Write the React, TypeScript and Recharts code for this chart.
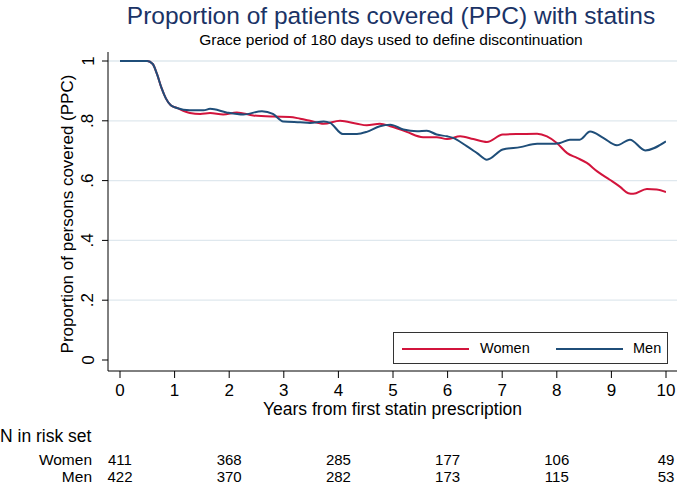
import React from 'react';
import { LineChart, Line, XAxis, YAxis, ReferenceLine } from 'recharts';

// years from first prescription (x) and PPC (y)
const womenYears = [0, 0.5, 0.6, 0.68, 0.76, 0.84, 0.93, 1.04, 1.28, 1.47, 1.65, 1.89, 2.14, 2.44, 2.8, 3.11, 3.3, 3.48, 3.73, 4.03, 4.34, 4.52, 4.76, 4.95, 5.25, 5.55, 5.8, 5.99, 6.23, 6.47, 6.72, 7.01, 7.33, 7.64, 7.82, 8.0, 8.19, 8.37, 8.55, 8.74, 8.97, 9.16, 9.31, 9.4, 9.65, 9.83, 10];
const womenPpc = [1, 1, 0.99, 0.955, 0.91, 0.875, 0.852, 0.843, 0.826, 0.823, 0.826, 0.821, 0.828, 0.818, 0.814, 0.813, 0.807, 0.8, 0.79, 0.8, 0.79, 0.785, 0.79, 0.782, 0.763, 0.745, 0.745, 0.739, 0.748, 0.739, 0.729, 0.754, 0.756, 0.757, 0.748, 0.726, 0.692, 0.676, 0.659, 0.631, 0.603, 0.579, 0.558, 0.556, 0.572, 0.57, 0.562];

const menYears = [0, 0.5, 0.6, 0.68, 0.76, 0.84, 0.93, 1.04, 1.28, 1.53, 1.65, 1.95, 2.26, 2.6, 2.8, 2.99, 3.3, 3.48, 3.73, 3.85, 4.08, 4.34, 4.52, 4.76, 4.95, 5.19, 5.44, 5.62, 5.8, 5.99, 6.1, 6.35, 6.54, 6.72, 7.01, 7.33, 7.64, 7.88, 8.06, 8.24, 8.42, 8.61, 8.85, 9.1, 9.34, 9.62, 10];
const menPpc = [1, 1, 0.99, 0.955, 0.91, 0.875, 0.852, 0.843, 0.835, 0.835, 0.84, 0.828, 0.821, 0.832, 0.823, 0.798, 0.795, 0.793, 0.798, 0.793, 0.756, 0.756, 0.763, 0.782, 0.787, 0.771, 0.765, 0.767, 0.754, 0.748, 0.743, 0.715, 0.692, 0.67, 0.704, 0.712, 0.723, 0.723, 0.726, 0.737, 0.737, 0.764, 0.743, 0.718, 0.737, 0.701, 0.731];

const xTicks = [0, 1, 2, 3, 4, 5, 6, 7, 8, 9, 10];
const yTicks = [0, 0.2, 0.4, 0.6, 0.8, 1];
const gridValues = [0.2, 0.4, 0.6, 0.8, 1];

const riskYears = [0, 2, 4, 6, 8, 10];
const riskWomen = [411, 368, 285, 177, 106, 49];
const riskMen = [422, 370, 282, 173, 115, 53];

const WOMEN = '#d2143c';
const MEN = '#1f4e79';
const FONT = '"Liberation Sans", Arial, sans-serif';

const womenData = womenYears.map((t, i) => ({ t, v: womenPpc[i] }));
const menData = menYears.map((t, i) => ({ t, v: menPpc[i] }));

const fmtY = (v: number) => (v === 0 ? '0' : v === 1 ? '1' : v.toFixed(1).replace(/^0/, ''));

// stata-style vertical y tick labels
const YTick = (props: any) => {
  const { y, payload } = props;
  return (
    <text x={88} y={y} transform={`rotate(-90, 88, ${y})`} textAnchor="middle" dominantBaseline="central"
      fontSize={17} fill="#000" fontFamily={FONT}>
      {fmtY(payload.value)}
    </text>
  );
};

// plot geometry used for the risk table columns
const x0 = 120;
const pxPerYear = 54.6;

export default function App() {
  return (
    <div style={{ position: 'absolute', left: 0, top: 0, width: 677, height: 488, fontFamily: FONT, background: '#fff' }}>
      <div style={{ position: 'absolute', left: 0, width: 677, top: 1, paddingLeft: 105, boxSizing: 'border-box', textAlign: 'center', fontSize: 24.5, color: '#1a3366', lineHeight: '30px', whiteSpace: 'nowrap' }}>
        Proportion of patients covered (PPC) with statins
      </div>
      <div style={{ position: 'absolute', left: 0, width: 677, top: 31, paddingLeft: 105, boxSizing: 'border-box', textAlign: 'center', fontSize: 15.5, color: '#000', lineHeight: '18px' }}>
        Grace period of 180 days used to define discontinuation
      </div>

      <LineChart width={677} height={488} margin={{ top: 52, right: 0, bottom: 77, left: 0 }}>
        {gridValues.map((g) => (
          <ReferenceLine key={g} y={g} stroke="#dfe8ee" strokeWidth={1.3} />
        ))}
        <XAxis type="number" dataKey="t" domain={[0, 10]} ticks={xTicks} allowDataOverflow
          padding={{ left: 12, right: 11 }} height={40} tickSize={7} tickMargin={6}
          axisLine={{ stroke: '#000' }} tickLine={{ stroke: '#000' }}
          tick={{ fill: '#000', fontSize: 17, fontFamily: FONT }} />
        <YAxis type="number" domain={[0, 1]} ticks={yTicks} width={108} tickSize={6}
          padding={{ top: 9, bottom: 11 }} axisLine={{ stroke: '#000' }} tickLine={{ stroke: '#000' }}
          tick={<YTick />} />
        <Line data={womenData} dataKey="v" type="monotone" stroke={WOMEN} strokeWidth={2} dot={false} isAnimationActive={false} />
        <Line data={menData} dataKey="v" type="monotone" stroke={MEN} strokeWidth={2} dot={false} isAnimationActive={false} />
      </LineChart>

      {/* y axis title */}
      <div style={{ position: 'absolute', left: 68, top: 214, transform: 'translate(-50%, -50%) rotate(-90deg)', whiteSpace: 'nowrap', fontSize: 17 }}>
        Proportion of persons covered (PPC)
      </div>

      {/* legend */}
      <div style={{ position: 'absolute', left: 393, top: 332, width: 275, height: 32, border: '1px solid #333', boxSizing: 'border-box', background: '#fff' }}>
        <div style={{ position: 'absolute', left: 8, top: 15, width: 67, height: 0, borderTop: `2px solid ${WOMEN}` }} />
        <div style={{ position: 'absolute', left: 86, top: 6, fontSize: 14.5, lineHeight: '18px' }}>Women</div>
        <div style={{ position: 'absolute', left: 162, top: 15, width: 67, height: 0, borderTop: `2px solid ${MEN}` }} />
        <div style={{ position: 'absolute', left: 239, top: 6, fontSize: 14.5, lineHeight: '18px' }}>Men</div>
      </div>

      {/* x axis title */}
      <div style={{ position: 'absolute', left: 108, width: 569, top: 399, textAlign: 'center', fontSize: 17.5, lineHeight: '20px' }}>
        Years from first statin prescription
      </div>

      {/* risk table */}
      <div style={{ position: 'absolute', left: 0, top: 426, fontSize: 17.5, lineHeight: '20px' }}>N in risk set</div>
      <div style={{ position: 'absolute', left: 0, width: 92, textAlign: 'right', top: 451, fontSize: 15.5, lineHeight: '18px' }}>Women</div>
      <div style={{ position: 'absolute', left: 0, width: 92, textAlign: 'right', top: 468, fontSize: 15.5, lineHeight: '18px' }}>Men</div>
      {riskYears.map((yr, i) => (
        <React.Fragment key={yr}>
          <div style={{ position: 'absolute', left: x0 + yr * pxPerYear - 30, width: 60, textAlign: 'center', top: 451, fontSize: 15, lineHeight: '18px' }}>{riskWomen[i]}</div>
          <div style={{ position: 'absolute', left: x0 + yr * pxPerYear - 30, width: 60, textAlign: 'center', top: 468, fontSize: 15, lineHeight: '18px' }}>{riskMen[i]}</div>
        </React.Fragment>
      ))}
    </div>
  );
}
